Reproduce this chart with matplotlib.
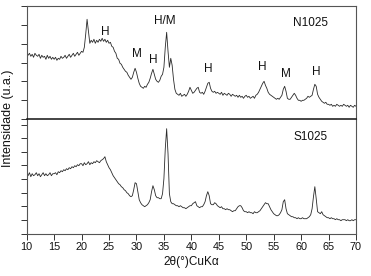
import numpy as np
import matplotlib
matplotlib.use("Agg")
from matplotlib import pyplot as plt

plt.rcParams['font.family'] = ['Liberation Sans', 'DejaVu Sans']

# 2theta grid, 0.25 deg step (10 .. 70)
two_theta = np.arange(10, 70.001, 0.25)

# N1025 pattern (arbitrary units)
n1025 = [
    67, 64, 66, 63, 65, 62, 66, 64, 63, 65, 61, 64, 62, 63, 60, 64, 61, 63, 60, 62,
    60, 62, 59, 61, 60, 63, 61, 62, 64, 61, 63, 65, 62, 64, 66, 63, 65, 67, 64, 66,
    68, 67, 72, 85, 100, 88, 76, 79, 77, 80, 76, 79, 77, 80, 78, 81, 78, 80, 77, 79,
    76, 77, 73, 72, 68, 66, 61, 60, 56, 55, 52, 50, 48, 47, 44, 42, 40, 42, 47, 51,
    47, 41, 36, 33, 32, 31, 33, 32, 35, 37, 41, 46, 50, 45, 40, 38, 37, 39, 43, 45,
    52, 72, 87, 68, 52, 61, 54, 40, 30, 26, 25, 24, 26, 23, 24, 25, 23, 25, 28, 32,
    29, 26, 27, 29, 31, 32, 27, 26, 27, 25, 28, 32, 36, 37, 31, 28, 27, 28, 26, 27,
    26, 25, 27, 24, 26, 25, 24, 26, 25, 23, 25, 24, 23, 24, 22, 24, 22, 23, 21, 23,
    24, 22, 23, 21, 22, 23, 21, 24, 25, 27, 30, 33, 36, 38, 34, 31, 27, 25, 24, 23,
    22, 21, 20, 21, 20, 22, 24, 30, 33, 28, 21, 20, 20, 22, 24, 26, 24, 21, 19, 19,
    18, 19, 19, 20, 21, 23, 22, 23, 24, 30, 35, 33, 25, 22, 20, 18, 17, 16, 17, 15,
    15, 14, 15, 13, 14, 13, 15, 14, 13, 14, 13, 15, 14, 13, 14, 12, 14, 13, 12, 14,
    13,
]

# S1025 pattern
s1025 = [
    60, 58, 61, 57, 60, 58, 59, 61, 58, 60, 57, 59, 61, 58, 60, 58, 59, 61, 58, 60,
    60, 61, 59, 62, 61, 63, 62, 64, 63, 65, 64, 66, 65, 67, 66, 68, 67, 69, 68, 70,
    70, 68, 71, 69, 70, 72, 69, 71, 70, 72, 71, 73, 72, 71, 73, 74, 75, 77, 72, 69,
    66, 64, 61, 58, 56, 54, 52, 50, 49, 47, 46, 44, 43, 41, 40, 38, 37, 38, 44, 51,
    50, 42, 34, 31, 29, 28, 27, 28, 29, 31, 34, 42, 48, 44, 38, 36, 36, 35, 35, 40,
    55, 85, 105, 80, 40, 32, 30, 30, 29, 28, 28, 27, 28, 27, 26, 26, 25, 26, 27, 28,
    28, 30, 31, 32, 28, 27, 26, 27, 27, 29, 32, 38, 42, 38, 30, 29, 29, 31, 30, 28,
    27, 26, 27, 25, 25, 24, 25, 24, 24, 23, 22, 23, 23, 25, 27, 28, 28, 26, 23, 22,
    22, 21, 22, 21, 21, 20, 22, 21, 21, 22, 23, 25, 27, 29, 31, 30, 30, 27, 24, 22,
    20, 19, 18, 18, 19, 21, 24, 32, 34, 25, 20, 19, 18, 17, 17, 16, 16, 15, 16, 15,
    15, 16, 15, 15, 15, 16, 17, 19, 25, 37, 47, 35, 22, 21, 20, 22, 19, 18, 17, 16,
    16, 15, 16, 15, 15, 14, 15, 14, 14, 13, 14, 14, 14, 13, 14, 13, 13, 14, 13, 14,
    14,
]

# phase labels on the N1025 pattern
peak_labels = ['H', 'M', 'H', 'H/M', 'H', 'H', 'M', 'H']
peak_x = [24.4, 30.1, 33.0, 35.1, 43.1, 53.0, 57.3, 62.7]
peak_y = [87, 65, 59, 98, 50, 52, 45, 47]

fig = plt.figure(figsize=(3.71, 2.76), dpi=100)
W, H = 371.0, 276.0
left, right = 26.7 / W, 356.0 / W
ax1 = fig.add_axes([left, (H - 119.3) / H, right - left, 113.6 / H])
ax2 = fig.add_axes([left, (H - 233.7) / H, right - left, 114.4 / H])
ax2.patch.set_alpha(0)

line_kw = dict(color='#2a2a2a', lw=0.6)
ax1.plot(two_theta, n1025, **line_kw)
ax2.plot(two_theta, s1025, **line_kw)

ax1.set_ylim(0, 113.6)
ax1.set_yticks(np.linspace(0, 113.6, 7))
ax2.set_ylim(0, 114.4)
ax2.set_yticks(np.arange(0, 110, 13.65))

for ax in (ax1, ax2):
    ax.set_xlim(10, 70)
    ax.set_yticklabels([])
    ax.tick_params(axis='y', direction='out', length=4, width=0.7, colors='#333333')
    for s in ax.spines.values():
        s.set_color('#555555')
        s.set_linewidth(0.8)

ax1.set_xticks([])
ax1.spines['bottom'].set_visible(False)
ax2.spines['top'].set_color('#111111')
ax2.spines['top'].set_linewidth(1.1)

ax2.set_xticks(np.arange(10, 71, 5))
ax2.tick_params(axis='x', direction='out', length=4, width=0.7,
                colors='#333333', labelsize=7.8, labelcolor='#111111', pad=2)

for lab, x, y in zip(peak_labels, peak_x, peak_y):
    ax1.text(x, y, lab, ha='center', va='center', fontsize=8.5, color='#111111')

ax1.text(61.8, 96, 'N1025', ha='center', va='center', fontsize=8.5, color='#111111')
ax2.text(61.8, 97, 'S1025', ha='center', va='center', fontsize=8.5, color='#111111')

ax2.set_xlabel('2θ(°)CuKα', fontsize=8.5, labelpad=3, color='#111111')
fig.text(8.5 / W, (H - 118) / H, 'Intensidade (u.a.)', rotation=90,
         ha='center', va='center', fontsize=9, color='#111111')

fig.savefig('out.png', dpi=100)
